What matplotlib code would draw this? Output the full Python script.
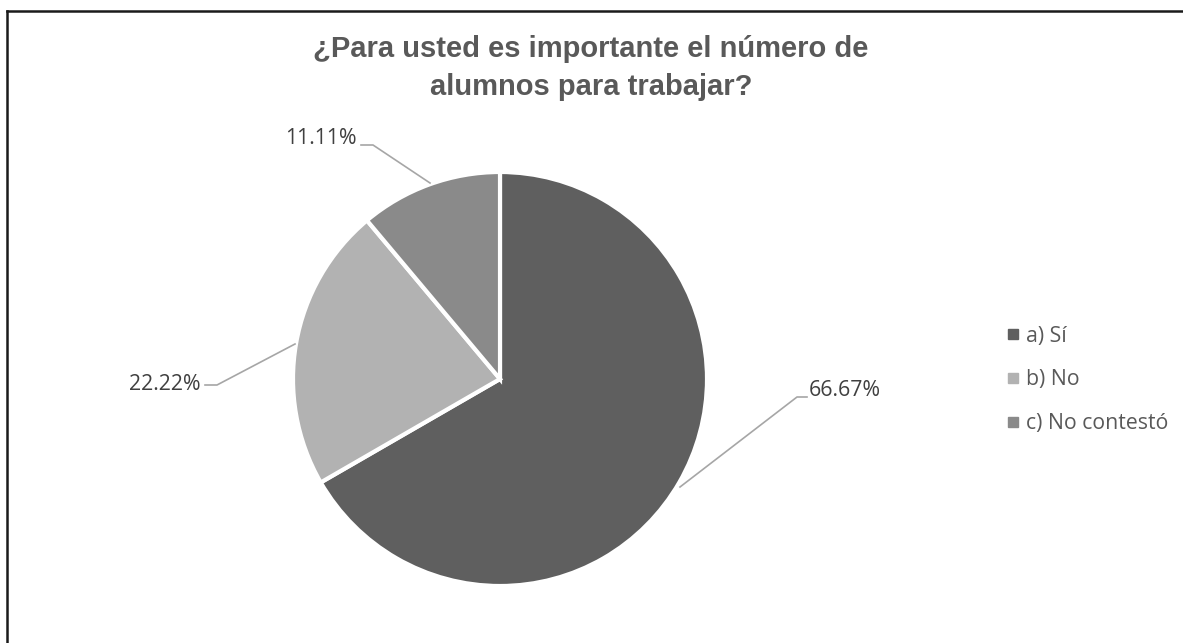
import matplotlib.pyplot as plt
from matplotlib.lines import Line2D

categories = ['a) Sí', 'b) No', 'c) No contestó']
values = [66.67, 22.22, 11.11]
colors = ['#5f5f5f', '#b2b2b2', '#8a8a8a']
title = '¿Para usted es importante el número de\nalumnos para trabajar?'

W, H = 1183, 643
fig = plt.figure(figsize=(W / 100, H / 100), dpi=100)
ax = fig.add_axes([0, 0, 1, 1])

cx, cy, r = 500, H - 379, 207
wedges, _ = ax.pie(values, colors=colors, startangle=90, counterclock=False,
                   center=(cx, cy), radius=r, frame=True,
                   wedgeprops=dict(edgecolor='white', linewidth=3))
ax.set_xlim(0, W)
ax.set_ylim(0, H)
ax.axis('off')

# data labels with leader lines (pixel coords, y from top)
lab_font = dict(family='Open Sans', fontsize=15.3, color='#404040')
lines = [
    [(807, 397), (797, 397), (680, 487)],
    [(205, 385), (217, 385), (295, 344)],
    [(361, 145), (373, 145), (430, 183)],
]
texts = [(809, 391, 'left'), (201, 384, 'right'), (357, 138, 'right')]
for v, pts, (tx, ty, ha) in zip(values, lines, texts):
    ax.plot([p[0] for p in pts], [H - p[1] for p in pts], color='#a6a6a6', lw=1.2)
    ax.text(tx, H - ty, f'{v:.2f}%', ha=ha, va='center', **lab_font)

fig.text(591 / W, 1 - 68 / H, title, ha='center', va='center',
         fontsize=21, fontweight='bold', color='#595959',
         family='Liberation Sans', linespacing=1.42)

handles = [Line2D([], [], marker='s', ls='', color=c, markersize=7) for c in colors]
leg = fig.legend(handles, categories, loc='center left',
                 bbox_to_anchor=(983 / W, 1 - 380 / H), frameon=False,
                 labelspacing=1.08, handletextpad=0.12, handlelength=1.0,
                 prop=dict(family='Open Sans', size=15.3))
for t in leg.get_texts():
    t.set_color('#595959')

# partial frame (top and left border)
fig.add_artist(Line2D([6.5 / W, 6.5 / W], [0, 1 - 10.5 / H], color='#1a1a1a', lw=1.8))
fig.add_artist(Line2D([6.5 / W, 1], [1 - 10.5 / H, 1 - 10.5 / H], color='#1a1a1a', lw=1.8))

fig.savefig('out.png', dpi=100)
